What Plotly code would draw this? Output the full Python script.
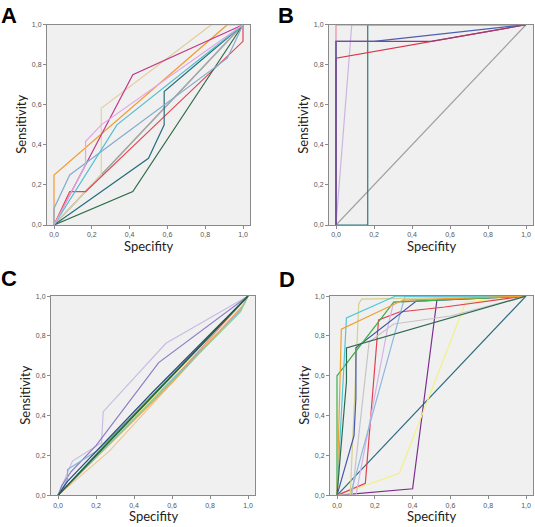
import plotly.graph_objects as go

W, H = 535, 527

# ---------------- data ----------------
# Panel A
A_colors = ["#8FA08F", "#A8A8A8", "#F39C34", "#E3D0A0", "#C23B8A", "#E2474F", "#2F6B4B",
            "#2B6F7C", "#86ABD0", "#52BFCF", "#E1A6E6"]
A_x = [[0, 1], [0, 1], [0, 0, 0.917, 1], [0, 0.25, 0.25, 0.833, 1], [0, 0.417, 1],
       [0, 0.083, 0.167, 1, 1], [0, 0.417, 1], [0, 0.5, 0.583, 0.583, 1],
       [0, 0, 0.083, 0.917, 1], [0, 0.333, 1], [0, 0.167, 0.167, 0.25, 1]]
A_y = [[0, 1], [0, 1], [0, 0.25, 1, 1], [0, 0.25, 0.583, 1, 1], [0, 0.75, 1],
       [0, 0.167, 0.167, 0.917, 1], [0, 0.167, 1], [0, 0.333, 0.5, 0.667, 1],
       [0, 0.083, 0.25, 0.833, 1], [0, 0.5, 1], [0, 0.3, 0.417, 0.5, 1]]

# Panel B
B_colors = ["#A0A0A0", "#2A7A80", "#CDB5E3", "#E58DA0", "#D8334A", "#9A3A78", "#4C5FB0", "#A07860"]
B_x = [[0, 1], [0, 0.167, 0.167, 1], [0, 0.083, 1], [0, 0, 1], [0, 0, 1],
       [0, 0, 0.5, 1], [0, 0, 0.2, 1], [0, 1]]
B_y = [[0, 1], [0, 0, 1, 1], [0, 1, 1], [0, 1, 1], [0, 0.833, 1],
       [0, 0.917, 0.917, 1], [0, 0.917, 0.917, 1], [1, 1]]

# Panel C
C_colors = ["#C9BCE0", "#8E7CC3", "#7FB2D5", "#E9C893", "#EDE58A", "#F2A85A", "#E69090",
            "#5DA85D", "#7FCFA0", "#2F4A8A", "#1F6B6B", "#2C5E3F"]
C_x = [[0, 0.076, 0.229, 0.238, 0.568, 1], [0, 0.02, 0.07, 0.2, 0.53, 1],
       [0, 0.05, 0.05, 0.2, 0.6, 0.96, 1], [0, 0.27, 0.97, 1], [0, 0.5, 1],
       [0, 0.6, 0.98, 1], [0, 0.6, 1], [0, 0.3, 1], [0, 0.96, 1],
       [0, 0.05, 0.5, 1], [0, 1], [0, 1]]
C_y = [[0, 0.172, 0.264, 0.42, 0.763, 1], [0, 0.05, 0.12, 0.25, 0.666, 1],
       [0, 0.08, 0.13, 0.22, 0.58, 0.93, 1], [0, 0.222, 0.95, 1], [0, 0.49, 1],
       [0, 0.565, 0.96, 1], [0, 0.575, 1], [0, 0.31, 1], [0, 0.92, 1],
       [0, 0.07, 0.52, 1], [0, 1], [0, 1]]

# Panel D
D_colors = ["#2A6A80", "#7B2D8E", "#F3F088", "#E2404E", "#C5C5C5", "#D4B4E4", "#8FB8E0",
            "#D5D08E", "#4656A8", "#3DB048", "#4DC9DA", "#F0A030", "#2E6A50"]
D_x = [[0, 1], [0, 0.4, 0.529, 1], [0, 0.33, 0.653, 0.68, 1], [0, 0.15, 0.22, 0.33, 0.57, 1],
       [0, 0.08, 0.17, 0.3, 0.6, 1], [0, 0.1, 0.27, 0.3, 1], [0, 0.07, 0.36, 1],
       [0, 0.07, 0.115, 0.13, 1], [0, 0.09, 0.1, 0.1, 0.42, 1], [0, 0, 0.3, 1],
       [0, 0.05, 0.31, 1], [0, 0.023, 0.35, 1], [0, 0.05, 0.05, 1]]
D_y = [[0, 1], [0, 0.033, 0.983, 1], [0, 0.111, 0.9, 0.97, 1], [0, 0.061, 0.88, 0.92, 0.945, 1],
       [0, 0, 0.77, 0.86, 0.9, 1], [0, 0, 0.85, 0.97, 1], [0, 0, 1, 1],
       [0, 0, 0.96, 0.985, 1], [0, 0.3, 0.49, 0.74, 0.975, 1], [0, 0.6, 0.97, 1],
       [0, 0.89, 1, 1], [0, 0.834, 0.98, 1], [0, 0.57, 0.74, 1]]

panel_letters = ["A", "B", "C", "D"]
x_title = "Specifity"
y_title = "Sensitivity"
tick_vals = [0, 0.2, 0.4, 0.6, 0.8, 1.0]

# ---------------- layout (pixel boxes) ----------------
boxes = [(47, 250, 21, 224), (329, 533, 21, 224), (51, 255, 296, 498), (330, 533, 296, 498)]

fig = go.Figure()
panels = [(A_x, A_y, A_colors), (B_x, B_y, B_colors), (C_x, C_y, C_colors), (D_x, D_y, D_colors)]
for i, (xs, ys, cols) in enumerate(panels):
    sfx = "" if i == 0 else str(i + 1)
    for x, y, c in zip(xs, ys, cols):
        fig.add_trace(go.Scatter(x=x, y=y, mode="lines", line=dict(color=c, width=1.2),
                                 xaxis="x" + sfx, yaxis="y" + sfx, showlegend=False,
                                 hoverinfo="skip"))

lay = {}
ann = []
for i, (l, r, t, b) in enumerate(boxes):
    sfx = "" if i == 0 else str(i + 1)
    wpx = r - l
    pad = 7 / wpx * 1.0 / (1 - 14 / wpx)
    axis_common = dict(showline=True, mirror=True, linecolor="#8A8A8A", linewidth=1,
                       showgrid=False, zeroline=False, ticks="outside", ticklen=3,
                       tickcolor="#8A8A8A", tickvals=tick_vals, tickformat=".1f",
                       tickfont=dict(size=7, color="#555555", family="Liberation Sans"))
    lay["xaxis" + sfx] = dict(axis_common, domain=[l / W, r / W], range=[-pad, 1 + pad],
                              anchor="y" + sfx)
    lay["yaxis" + sfx] = dict(axis_common, domain=[1 - b / H, 1 - t / H], range=[0, 1],
                              anchor="x" + sfx)
    # axis titles
    ann.append(dict(text=x_title, x=(l + r) / 2 / W, y=1 - (b + 21) / H, xref="paper",
                    yref="paper", showarrow=False, xanchor="center", yanchor="middle",
                    font=dict(size=13, color="#222222", family="Lato")))
    ann.append(dict(text=y_title, x=(l - 26) / W, y=1 - (t + b) / 2 / H, xref="paper",
                    yref="paper", showarrow=False, xanchor="center", yanchor="middle",
                    textangle=-90, font=dict(size=13, color="#222222", family="Lato")))

letter_pos = [(9, 12), (286, 12), (9, 278), (287, 279)]
for letter, (lx, ly) in zip(panel_letters, letter_pos):
    ann.append(dict(text="<b>" + letter + "</b>", x=lx / W, y=1 - ly / H, xref="paper",
                    yref="paper", showarrow=False, xanchor="center", yanchor="middle",
                    font=dict(size=22, color="#000000", family="Liberation Sans")))

fig.update_layout(width=W, height=H, margin=dict(l=0, r=0, t=0, b=0),
                  paper_bgcolor="white", plot_bgcolor="#F0F0F0",
                  separators=",.", annotations=ann, **lay)

fig.write_html("out.html", config={"displayModeBar": False},
               post_script="document.body.style.margin='0';document.body.style.overflow='hidden';")
